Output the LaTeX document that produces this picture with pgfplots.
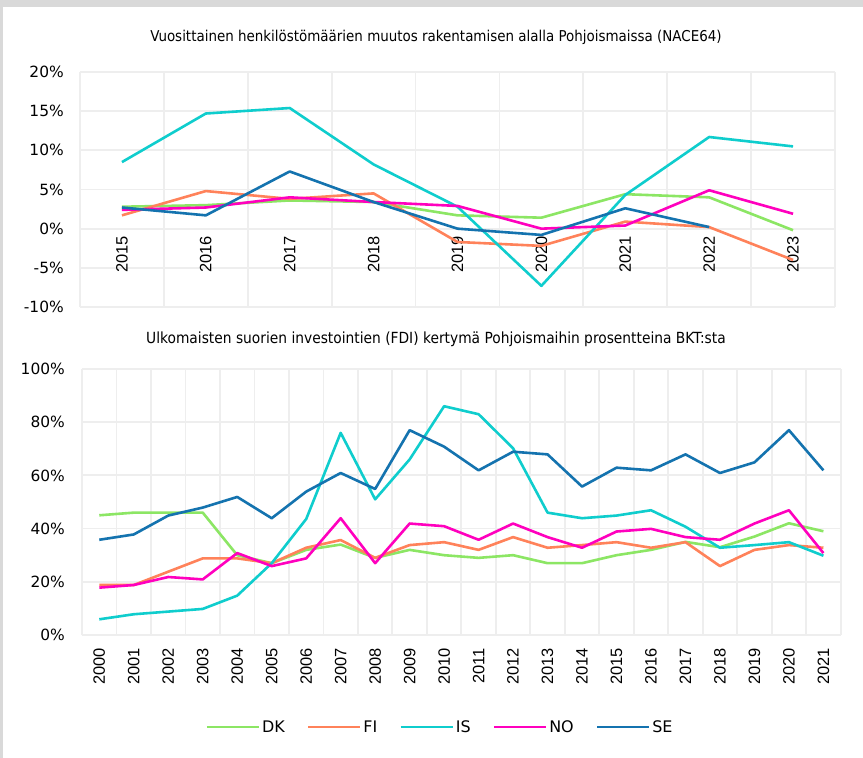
\documentclass[border=0pt]{standalone}
\usepackage{fontspec}
\setmainfont{DejaVu Sans}
\newfontfamily\xfont{Liberation Sans}
\newfontfamily\tfont{DejaVu Sans Condensed}
\usepackage{pgfplots}
\pgfplotsset{compat=1.18}
\definecolor{cDK}{RGB}{140,230,100}
\definecolor{cFI}{RGB}{255,130,90}
\definecolor{cIS}{RGB}{15,205,205}
\definecolor{cNO}{RGB}{255,0,190}
\definecolor{cSE}{RGB}{20,115,175}
\definecolor{gridc}{RGB}{238,238,238}
\definecolor{bordc}{RGB}{217,217,217}
\pgfplotsset{
  common/.style={
    scale only axis,
    axis line style={draw=none},
    tick style={draw=none},
    major tick length=0pt, minor tick length=0pt,
    ymajorgrids, xminorgrids, xmajorgrids=false,
    grid style={draw=gridc, line width=1.8bp},
    minor grid style={draw=gridc, line width=1.8bp},
    clip=false,
    every axis plot/.append style={line width=2.6bp, no markers, line join=round},
    yticklabel style={font=\fontsize{15.5}{16}\selectfont, anchor=east, inner sep=0pt},
    xticklabel style={font=\xfont\fontsize{16.5}{17}\selectfont, rotate=90, anchor=east, inner sep=0pt},
  }
}
\begin{document}
\begin{tikzpicture}
\useasboundingbox (0,0) rectangle (863bp,758bp);
\fill[bordc] (0,0) rectangle (863bp,758bp);
\fill[white] (3bp,0) rectangle (863bp,751bp);
\node[font=\tfont\fontsize{15}{17}\selectfont] at (436bp,721bp) {Vuosittainen henkilöstömäärien muutos rakentamisen alalla Pohjoismaissa (NACE64)};
\node[font=\tfont\fontsize{15.4}{17}\selectfont] at (436bp,419bp) {Ulkomaisten suorien investointien (FDI) kertymä Pohjoismaihin prosentteina BKT:sta};
\begin{axis}[common,
  at={(80bp,451bp)}, anchor=south west,
  width=755bp, height=235bp,
  xmin=-0.5, xmax=8.5, ymin=-10, ymax=20,
  ytick={-10,-5,0,5,10,15,20},
  yticklabels={-10\%,-5\%,0\%,5\%,10\%,15\%,20\%},
  yticklabel shift=16bp,
  xtick={0,...,8},
  xticklabels={2015,2016,2017,2018,2019,2020,2021,2022,2023},
  minor xtick={-0.5,0.5,1.5,2.5,3.5,4.5,5.5,6.5,7.5,8.5},
  xticklabel shift=-71bp,
]
\addplot[cDK] coordinates {(0,2.8)(1,3.0)(2,3.6)(3,3.4)(4,1.7)(5,1.4)(6,4.4)(7,4.0)(8,-0.2)};
\addplot[cFI] coordinates {(0,1.7)(1,4.8)(2,3.8)(3,4.5)(4,-1.7)(5,-2.2)(6,0.9)(7,0.2)(8,-4.0)};
\addplot[cIS] coordinates {(0,8.5)(1,14.7)(2,15.4)(3,8.2)(4,2.8)(5,-7.3)(6,4.3)(7,11.7)(8,10.5)};
\addplot[cNO] coordinates {(0,2.4)(1,2.7)(2,4.0)(3,3.4)(4,2.9)(5,0.0)(6,0.4)(7,4.9)(8,1.9)};
\addplot[cSE] coordinates {(0,2.7)(1,1.7)(2,7.3)(3,3.4)(4,0.0)(5,-0.8)(6,2.6)(7,0.2)};
\end{axis}
\begin{axis}[common,
  at={(82.06bp,123bp)}, anchor=south west,
  width=758.6bp, height=266bp,
  xmin=-0.5, xmax=21.5, ymin=0, ymax=100,
  ytick={0,20,40,60,80,100},
  yticklabels={0\%,20\%,40\%,60\%,80\%,100\%},
  yticklabel shift=17bp,
  xtick={0,...,21},
  xticklabels={2000,2001,2002,2003,2004,2005,2006,2007,2008,2009,2010,2011,2012,2013,2014,2015,2016,2017,2018,2019,2020,2021},
  minor xtick={-0.5,0.5,1.5,2.5,3.5,4.5,5.5,6.5,7.5,8.5,9.5,10.5,11.5,12.5,13.5,14.5,15.5,16.5,17.5,18.5,19.5,20.5,21.5},
  xticklabel shift=13bp,
  legend columns=5,
  legend style={at={(axis description cs:0.4719,-0.3459)}, anchor=center, draw=none, fill=none,
    font=\fontsize{16}{18}\selectfont,
    /tikz/every even column/.append style={column sep=20bp}},
  legend image code/.code={\draw[#1, line width=2.6bp] (0bp,0bp) -- (52bp,0bp);},
]
\addplot[cDK] coordinates {(0,45)(1,46)(2,46)(3,46)(4,30)(5,27)(6,32)(7,34)(8,29)(9,32)(10,30)(11,29)(12,30)(13,27)(14,27)(15,30)(16,32)(17,35)(18,33)(19,37)(20,42)(21,39)};
\addplot[cFI] coordinates {(0,18.8)(1,18.8)(2,23.8)(3,28.8)(4,28.8)(5,27)(6,32.8)(7,35.7)(8,29)(9,33.8)(10,34.9)(11,32)(12,36.8)(13,32.8)(14,33.8)(15,34.9)(16,32.8)(17,34.9)(18,25.9)(19,32)(20,33.8)(21,32.8)};
\addplot[cIS] coordinates {(0,5.9)(1,7.8)(2,8.8)(3,9.8)(4,14.8)(5,27)(6,43.6)(7,76)(8,51)(9,66)(10,86)(11,83)(12,70.2)(13,46)(14,43.9)(15,44.9)(16,46.9)(17,40.7)(18,32.8)(19,33.8)(20,34.9)(21,29.8)};
\addplot[cNO] coordinates {(0,17.8)(1,18.8)(2,21.8)(3,20.9)(4,30.8)(5,25.9)(6,28.8)(7,43.9)(8,27)(9,41.9)(10,40.9)(11,35.8)(12,41.9)(13,36.8)(14,32.8)(15,38.9)(16,39.9)(17,36.8)(18,35.8)(19,41.9)(20,46.9)(21,30.8)};
\addplot[cSE] coordinates {(0,35.8)(1,37.8)(2,44.9)(3,47.9)(4,51.9)(5,43.9)(6,53.9)(7,60.9)(8,54.9)(9,77)(10,70.8)(11,61.9)(12,68.9)(13,67.9)(14,55.8)(15,62.9)(16,61.9)(17,67.9)(18,60.9)(19,64.9)(20,77)(21,61.9)};
\legend{DK,FI,IS,NO,SE}
\end{axis}
\end{tikzpicture}
\end{document}
